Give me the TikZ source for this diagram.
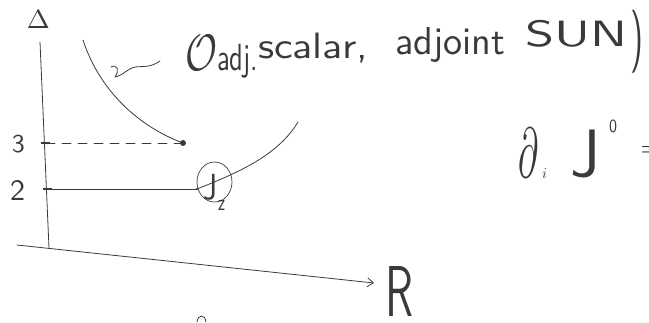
\documentclass[tikz,border=0pt]{standalone}
\usepackage{graphicx}
\usetikzlibrary{arrows.meta}
\definecolor{ink}{HTML}{3A3A3A}
\newcommand{\fitbox}[3]{\resizebox*{#1}{#2}{#3}}
\begin{document}
\begin{tikzpicture}[x=1pt,y=-1pt,
  lbl/.style={inner sep=0pt, outer sep=0pt, text=ink, anchor=north west, font=\sffamily},
  pen/.style={draw=ink, line width=0.8pt, line cap=round, line join=round}]
\useasboundingbox (0,0) rectangle (649,322);
\clip (0,0) rectangle (649,322);
% axes
\coordinate (vtop) at (40,42);
\coordinate (vbot) at (49,248);
\coordinate (hl) at (17,245);
\coordinate (hr) at (374,283);
\draw[pen] (vtop) -- (vbot);
\draw[pen, -{Straight Barb[length=6pt,width=9pt]}] (hl) -- (hr);
\node[lbl] (delta) at (27,10) {\fitbox{23pt}{18pt}{$\Delta$}};
\node[lbl] (R) at (385,266) {\fitbox{28pt}{50pt}{R}};
% ticks and labels
\node[lbl] (three) at (12,135) {\fitbox{13pt}{18pt}{3}};
\node[lbl] (two) at (10,180) {\fitbox{15pt}{20pt}{2}};
\coordinate (t3) at (46,143);
\coordinate (t2) at (47,189);
\draw[ink, line width=2pt] (41,143) -- (50,143);
\draw[ink, line width=2pt] (43,189) -- (52,189);
% dashed line to dot
\coordinate (dot) at (183,143);
\draw[pen, dash pattern=on 9pt off 7pt] (t3) -- (dot);
\fill[ink] (dot) circle (3pt);
% solid line to circled J
\coordinate (jend) at (197,189);
\draw[pen] (t2) -- (jend);
\fill[ink] (jend) circle (1.2pt);
% curves
\coordinate (c1) at (83,40);
\draw[pen] (c1) .. controls (100,92) and (140,127) .. (dot);
\coordinate (c2) at (298,122);
\draw[pen] (jend) .. controls (240,172) and (278,155) .. (c2);
% circled J
\draw[pen, line width=0.7pt] (214.5,182) ellipse [x radius=17.5, y radius=20];
\node[lbl] (J1) at (203,174) {\fitbox{14pt}{26pt}{J}};
\node[lbl] (J1s) at (218,200) {\fitbox{7pt}{10pt}{z}};
% squiggle pointer
\draw[pen] (111,67) .. controls (117,64) and (120,70) .. (115,77)
  .. controls (124,75) and (128,68) .. (135,67)
  .. controls (143,66) and (150,68) .. (160,61);
% label text
\node[lbl] (O) at (185,35) {\fitbox{32pt}{35pt}{$\mathcal{O}$}};
\node[lbl] (adj) at (217,44) {\fitbox{41pt}{34pt}{adj.}};
\node[lbl] (scalar) at (258,33) {\fitbox{110pt}{30pt}{scalar,}};
\node[lbl] (adjoint) at (395,27) {\fitbox{110pt}{35pt}{adjoint}};
\node[lbl] (SUN) at (525,20) {\fitbox{102pt}{27pt}{SUN}};
\node[lbl] (paren) at (630,10) {\fitbox{13pt}{63pt}{)}};
% d_i J^0 =
\node[lbl] (del) at (518,128) {\fitbox{20pt}{49pt}{$\partial$}};
\node[lbl] (isub) at (542,168) {\fitbox{5pt}{10pt}{$i$}};
\node[lbl] (J) at (570,130) {\fitbox{30pt}{48pt}{J}};
\node[lbl] (zero) at (609,120) {\fitbox{8pt}{13pt}{0}};
\node[lbl] (eq) at (641,146) {\fitbox{14pt}{10pt}{=}};
% partial mark at bottom
\draw[pen] (197,322) .. controls (198,314) and (205,314) .. (206,322);
\end{tikzpicture}
\end{document}
